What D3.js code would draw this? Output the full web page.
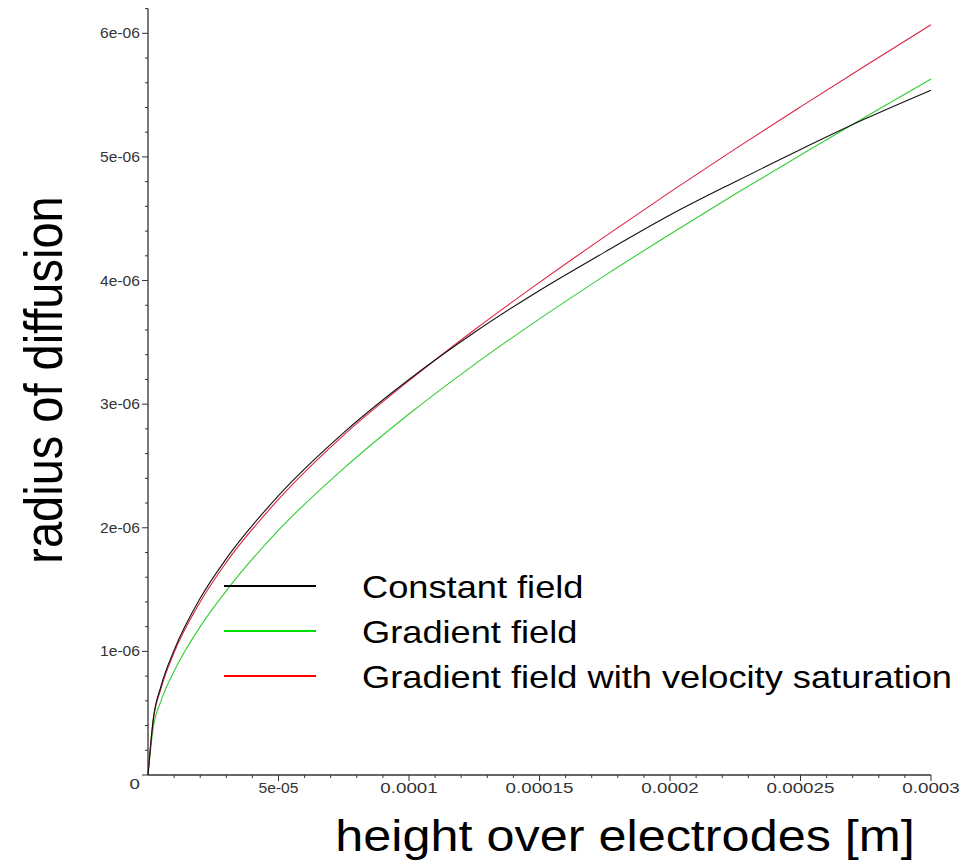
<html>
<meta http-equiv="content-type" content="text/html; charset=UTF8">
<style>
  body {margin:0; background:#fff;}
  text {font-family: "Liberation Sans", Arial, sans-serif;}
</style>
<body>
<svg id="svg1" width="975" height="865"></svg>

<script src="https://cdn.jsdelivr.net/npm/d3@7"></script>
<script>
// height over electrodes [m]
var heights=[0,2e-6,5e-6,1e-5,2e-5,3e-5,5e-5,7.5e-5,1e-4,1.25e-4,1.5e-4,1.75e-4,2e-4,2.25e-4,2.5e-4,2.75e-4,3e-4];
// radius of diffusion, in units of 1e-6
var constField=[0,0.45,0.72,1.01,1.43,1.75,2.26,2.77,3.20,3.58,3.92,4.23,4.53,4.80,5.06,5.31,5.54];
var gradField=[0,0.38,0.60,0.84,1.20,1.49,1.98,2.48,2.92,3.32,3.69,4.04,4.375,4.70,5.015,5.325,5.63];
var gradSatField=[0,0.44,0.70,0.99,1.40,1.72,2.23,2.75,3.19,3.60,3.985,4.355,4.715,5.065,5.405,5.74,6.07];

var seriesNames=["Constant field","Gradient field","Gradient field with velocity saturation"];
var yTicks=[0,1,2,3,4,5,6];
var yTickLabels=["0","1e-06","2e-06","3e-06","4e-06","5e-06","6e-06"];
var xTicks=[5e-5,1e-4,1.5e-4,2e-4,2.5e-4,3e-4];
var xTickLabels=["5e-05","0.0001","0.00015","0.0002","0.00025","0.0003"];

var lineColors=["#111111","#33cc33","#dd2040"];
var legendColors=["#000000","#00e000","#ff0000"];

var x=d3.scaleLinear().domain([0,3e-4]).range([148,931]);
var y=d3.scaleLinear().domain([0,6.2]).range([775,8.6]);

var svg=d3.select("#svg1");

// widen text horizontally (the reference is a bit stretched)
var stretch=function(sel,k) {
	sel.each(function(){
		var f=(typeof k=="function")?k(this.textContent):k;
		var w=this.getComputedTextLength();
		this.setAttribute("textLength",w*f);
		this.setAttribute("lengthAdjust","spacingAndGlyphs");
	});
}
var tickStretch=function(s){return s.indexOf("e")>=0?1.04:1.25};

// axes lines
svg.append("line").attr("x1",x(0)).attr("x2",x(3e-4)).attr("y1",y(0)).attr("y2",y(0))
	.style("stroke","#333").style("stroke-width",1.3);
svg.append("line").attr("x1",x(0)).attr("x2",x(0)).attr("y1",y(0)).attr("y2",y(6.2))
	.style("stroke","#333").style("stroke-width",1.3);

// y ticks: minor every 0.2, major every 1
var yMinor=d3.range(1,32).map(function(i){return i*0.2}).filter(function(v){return Math.abs(v-Math.round(v))>1e-6});
svg.selectAll(".ymin").data(yMinor).enter().append("line")
	.attr("x1",x(0)-3).attr("x2",x(0)).attr("y1",function(d){return y(d)}).attr("y2",function(d){return y(d)})
	.style("stroke","#333");
svg.selectAll(".ymaj").data(yTicks).enter().append("line")
	.attr("x1",x(0)-6).attr("x2",x(0)).attr("y1",function(d){return y(d)}).attr("y2",function(d){return y(d)})
	.style("stroke","#333");
var yl=svg.selectAll(".ylab").data(yTicks).enter().append("text")
	.attr("x",140).attr("y",function(d){return y(d)+5+(d==0?9:0)})
	.attr("text-anchor","end").style("font-size","15px").style("fill","#333")
	.text(function(d,i){return yTickLabels[i]});
stretch(yl,tickStretch);

// x ticks: minor every 1e-5, major every 5e-5
var xMinor=d3.range(1,30).filter(function(i){return i%5!=0}).map(function(i){return i*1e-5});
svg.selectAll(".xmin").data(xMinor).enter().append("line")
	.attr("x1",function(d){return x(d)}).attr("x2",function(d){return x(d)}).attr("y1",y(0)).attr("y2",y(0)+3)
	.style("stroke","#333");
svg.selectAll(".xmaj").data(xTicks).enter().append("line")
	.attr("x1",function(d){return x(d)}).attr("x2",function(d){return x(d)}).attr("y1",y(0)).attr("y2",y(0)+6)
	.style("stroke","#333");
var xl=svg.selectAll(".xlab").data(xTicks).enter().append("text")
	.attr("x",function(d){return x(d)}).attr("y",793)
	.attr("text-anchor","middle").style("font-size","15px").style("fill","#333")
	.text(function(d,i){return xTickLabels[i]});
stretch(xl,tickStretch);

// curves
var series=[constField,gradField,gradSatField];
var line=d3.line()
	.x(function(d,i){return x(heights[i])})
	.y(function(d){return y(d)})
	.curve(d3.curveMonotoneX);
[1,2,0].forEach(function(k){
	svg.append("path").attr("d",line(series[k]))
		.style("fill","none").style("stroke",lineColors[k]).style("stroke-width",1.1);
});

// legend
var lg=svg.selectAll(".leg").data(seriesNames).enter().append("g");
lg.append("line").attr("x1",224).attr("x2",316)
	.attr("y1",function(d,i){return 586+i*45}).attr("y2",function(d,i){return 586+i*45})
	.style("stroke",function(d,i){return legendColors[i]}).style("stroke-width",2);
var lt=lg.append("text").attr("x",362).attr("y",function(d,i){return 598+i*45})
	.style("font-size","31.5px").style("fill","#000")
	.text(function(d){return d});
stretch(lt,1.15);

// axis titles
var xt=svg.append("text").attr("x",625).attr("y",851).attr("text-anchor","middle")
	.style("font-size","44px").style("fill","#000").text("height over electrodes [m]");
stretch(xt,1.145);

svg.append("g").attr("transform","translate(62,380) scale(1.14,1)")
	.append("text").attr("transform","rotate(-90)").attr("text-anchor","middle")
	.style("font-size","47px").style("fill","#000").text("radius of diffusion");

</script>
</html>
